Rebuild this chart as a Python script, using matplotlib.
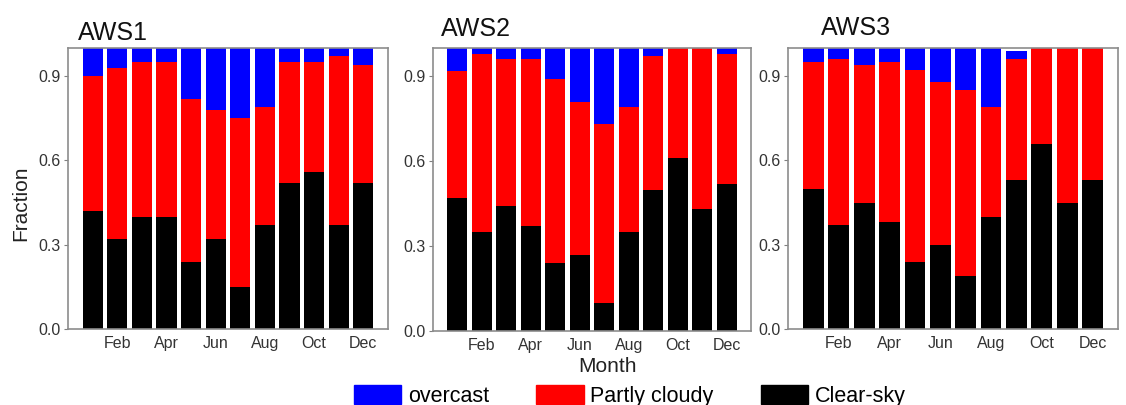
import numpy as np
import matplotlib
matplotlib.use('Agg')
import matplotlib.pyplot as plt
from matplotlib.patches import Patch

plt.rcParams['font.family'] = ['Liberation Sans', 'DejaVu Sans']

# monthly sky-condition fractions
months = np.arange(1, 13)
tick_pos = [2, 4, 6, 8, 10, 12]
tick_labels = ['Feb', 'Apr', 'Jun', 'Aug', 'Oct', 'Dec']
stations = ['AWS1', 'AWS2', 'AWS3']

clear_aws1 = [0.42, 0.32, 0.40, 0.40, 0.24, 0.32, 0.15, 0.37, 0.52, 0.56, 0.37, 0.52]
partly_aws1 = [0.48, 0.61, 0.55, 0.55, 0.58, 0.46, 0.60, 0.42, 0.43, 0.39, 0.60, 0.42]
overcast_aws1 = [0.10, 0.07, 0.05, 0.05, 0.18, 0.22, 0.25, 0.21, 0.05, 0.05, 0.03, 0.06]

clear_aws2 = [0.47, 0.35, 0.44, 0.37, 0.24, 0.27, 0.10, 0.35, 0.50, 0.61, 0.43, 0.52]
partly_aws2 = [0.45, 0.63, 0.52, 0.59, 0.65, 0.54, 0.63, 0.44, 0.47, 0.39, 0.57, 0.46]
overcast_aws2 = [0.08, 0.02, 0.04, 0.04, 0.11, 0.19, 0.27, 0.21, 0.03, 0.00, 0.00, 0.02]

clear_aws3 = [0.50, 0.37, 0.45, 0.38, 0.24, 0.30, 0.19, 0.40, 0.53, 0.66, 0.45, 0.53]
partly_aws3 = [0.45, 0.59, 0.49, 0.57, 0.68, 0.58, 0.66, 0.39, 0.43, 0.34, 0.55, 0.47]
overcast_aws3 = [0.05, 0.04, 0.06, 0.05, 0.08, 0.12, 0.15, 0.21, 0.03, 0.00, 0.00, 0.00]

clear = [clear_aws1, clear_aws2, clear_aws3]
partly = [partly_aws1, partly_aws2, partly_aws3]
overcast = [overcast_aws1, overcast_aws2, overcast_aws3]

W, H = 1126, 405
fig = plt.figure(figsize=(W / 100, H / 100), dpi=100)

# axes boxes in pixels: left, top, right, bottom
boxes = [(68, 48, 388, 329), (433, 48, 751, 331), (788, 48, 1118, 329)]
title_x = [78, 441, 821]
title_y = [40, 36, 35]

for i, (l, t, r, b) in enumerate(boxes):
    ax = fig.add_axes([l / W, 1 - b / H, (r - l) / W, (b - t) / H])
    c = np.array(clear[i])
    p = np.array(partly[i])
    o = np.array(overcast[i])
    ax.bar(months, c, width=0.82, color='black')
    ax.bar(months, p, width=0.82, bottom=c, color='#ff0000')
    ax.bar(months, o, width=0.82, bottom=c + p, color='#0000ff')
    ax.set_xlim(0, 13)
    ax.set_ylim(0, 1.0)
    ax.set_yticks([0.0, 0.3, 0.6, 0.9])
    ax.set_yticklabels(['0.0', '0.3', '0.6', '0.9'])
    ax.set_xticks(tick_pos)
    ax.set_xticklabels(tick_labels)
    ax.tick_params(axis='x', length=0, pad=5, labelsize=11.5, labelcolor='#333333')
    ax.tick_params(axis='y', length=3, width=0.8, color='#808080', pad=2,
                   labelsize=11.5, labelcolor='#333333')
    for s in ax.spines.values():
        s.set_color('#8c8c8c')
        s.set_linewidth(1.2)
    fig.text(title_x[i] / W, 1 - title_y[i] / H, stations[i], fontsize=18,
             ha='left', va='baseline', color='#111111')

fig.text(21 / W, 1 - 203 / H, 'Fraction', rotation=90, fontsize=15,
         ha='center', va='center', color='#222222')
fig.text(607 / W, 1 - 366 / H, 'Month', fontsize=15,
         ha='center', va='center', color='#222222')

handles = [Patch(color='#0000ff', label='overcast'),
           Patch(color='#ff0000', label='Partly cloudy'),
           Patch(color='black', label='Clear-sky')]
fig.legend(handles=handles, loc='upper left', bbox_to_anchor=(354 / W, 1 - 384.5 / H),
           ncol=3, frameon=False, fontsize=15.5, handlelength=2.2, handleheight=1.0,
           handletextpad=0.3, columnspacing=2.2, borderpad=0, borderaxespad=0)

fig.savefig('out.png', dpi=100)
